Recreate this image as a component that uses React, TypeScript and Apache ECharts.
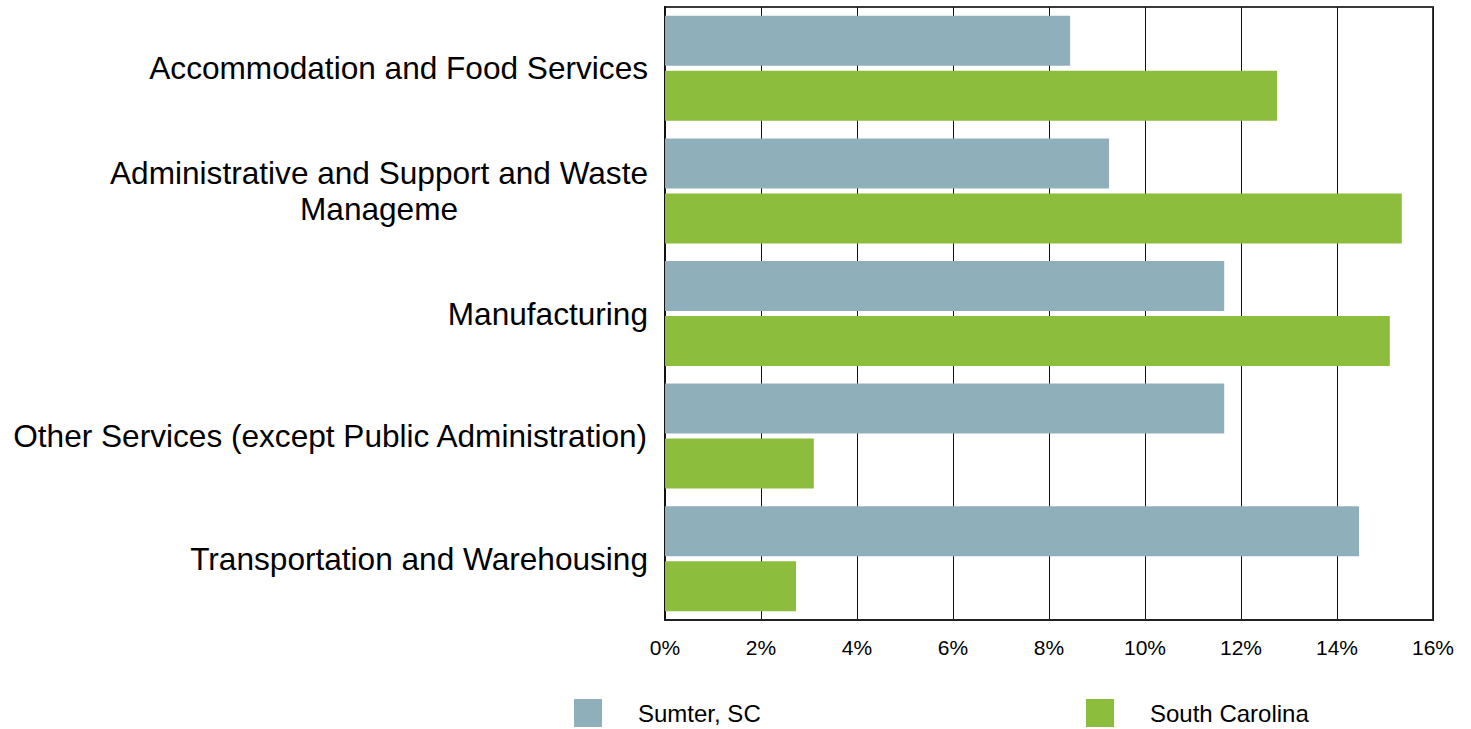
import React, { useEffect, useRef } from "react";
import * as echarts from "echarts";

const categories = [
  "Accommodation and Food Services",
  "Administrative and Support and Waste\nManageme",
  "Manufacturing",
  "Other Services (except Public Administration)",
  "Transportation and Warehousing",
];
const sumterValues = [8.44, 9.25, 11.65, 11.65, 14.46];
const southCarolinaValues = [12.75, 15.35, 15.1, 3.1, 2.73];
const seriesNames = ["Sumter, SC", "South Carolina"];

const FONT = "'Liberation Sans', Arial, sans-serif";
const BLUE = "#8fafba";
const GREEN = "#8dbd3c";

export default function App() {
  const ref = useRef<HTMLDivElement>(null);
  useEffect(() => {
    document.body.style.margin = "0";
    if (!ref.current) return;
    const chart = echarts.init(ref.current, undefined, { renderer: "svg" });
    chart.setOption({
      animation: false,
      backgroundColor: "#ffffff",
      grid: {
        left: 665,
        right: 38,
        top: 7,
        bottom: 109,
        show: true,
        borderColor: "#3a3a3a",
        borderWidth: 2,
        backgroundColor: "transparent",
      },
      legend: [
        {
          left: 574,
          top: 699,
          padding: 0,
          itemWidth: 28,
          itemHeight: 28,
          icon: "rect",
          data: [seriesNames[0]],
          textStyle: { fontSize: 24, color: "#000", fontFamily: FONT, padding: [0, 0, 0, 31] },
        },
        {
          left: 1086,
          top: 699,
          padding: 0,
          itemWidth: 28,
          itemHeight: 28,
          icon: "rect",
          data: [seriesNames[1]],
          textStyle: { fontSize: 24, color: "#000", fontFamily: FONT, padding: [0, 0, 0, 31] },
        },
      ],
      xAxis: {
        type: "value",
        min: 0,
        max: 16,
        interval: 2,
        axisLine: { show: true, lineStyle: { color: "#222", width: 2 } },
        axisTick: { show: false },
        splitLine: { show: true, lineStyle: { color: "#111", width: 1 } },
        axisLabel: {
          formatter: "{value}%",
          fontSize: 21,
          color: "#000",
          fontFamily: FONT,
          margin: 17,
        },
      },
      yAxis: {
        type: "category",
        data: categories,
        inverse: true,
        axisLine: { show: true, lineStyle: { color: "#111", width: 2 } },
        axisTick: { show: false },
        splitLine: { show: false },
        axisLabel: {
          margin: 17,
          fontSize: 31.6,
          color: "#000",
          fontFamily: FONT,
          formatter: (v: string) =>
            v
              .split("\n")
              .map((l) => `{c|${l}}`)
              .join("\n"),
          rich: {
            c: {
              align: "center",
              fontSize: 31.6,
              lineHeight: 36,
              color: "#000",
              fontFamily: FONT,
            },
          },
        },
      },
      series: [
        {
          name: seriesNames[0],
          type: "bar",
          data: sumterValues,
          barWidth: 50,
          barGap: "10%",
          itemStyle: { color: BLUE },
        },
        {
          name: seriesNames[1],
          type: "bar",
          data: southCarolinaValues,
          barWidth: 50,
          barGap: "10%",
          itemStyle: { color: GREEN },
        },
      ],
    });
    return () => chart.dispose();
  }, []);
  return <div ref={ref} style={{ width: 1471, height: 729 }} />;
}
